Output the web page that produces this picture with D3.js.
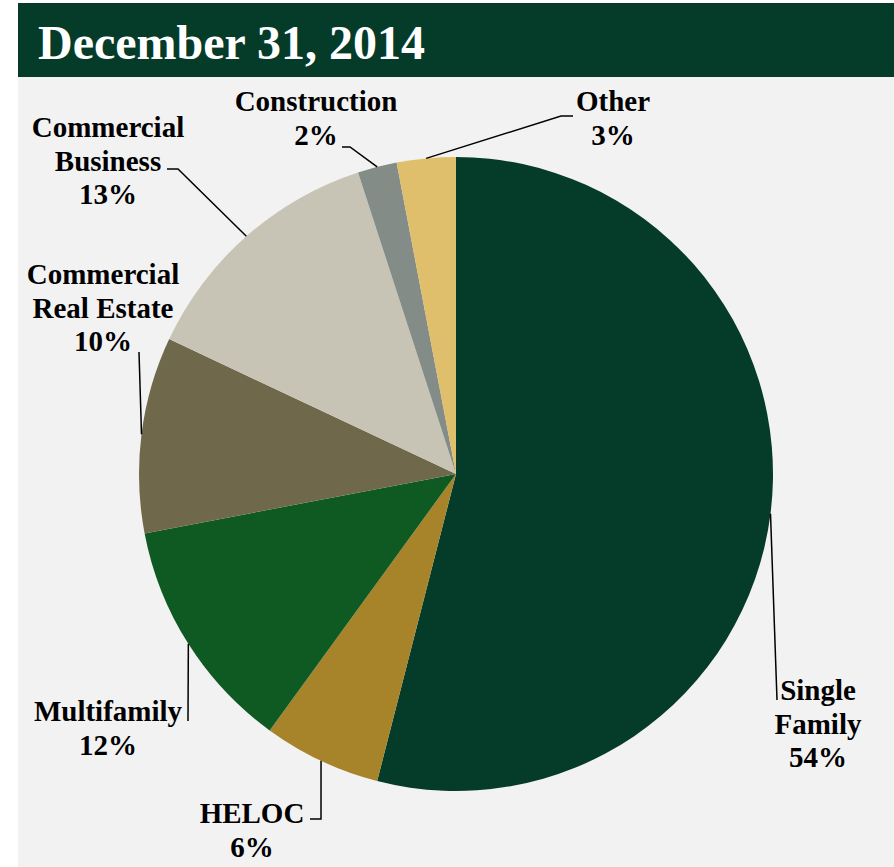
<!DOCTYPE html>
<html>
<head>
<meta charset="utf-8">
<script src="https://cdn.jsdelivr.net/npm/d3@7"></script>
<style>
  html, body { margin: 0; padding: 0; background: #fff; }
  svg { display: block; }
  text { font-family: "Liberation Serif", "Times New Roman", serif; font-weight: bold; }
</style>
</head>
<body>
<svg id="chart" width="894" height="867"></svg>
<script>
var title = "December 31, 2014";
var categories = ["Single Family", "HELOC", "Multifamily", "Commercial Real Estate", "Commercial Business", "Construction", "Other"];
var values = [54, 6, 12, 10, 13, 2, 3];
var labelLines = [["Single", "Family"], ["HELOC"], ["Multifamily"], ["Commercial", "Real Estate"], ["Commercial", "Business"], ["Construction"], ["Other"]];
var colors = ["#053b29", "#a78429", "#0f5a23", "#70684b", "#c8c4b5", "#848c87", "#dfbf6c"];

// label placement: x, first baseline, leader bend points after the arc point
var labelPos = [
  {x: 818, y: 700, pts: [[777, 700]]},
  {x: 252, y: 823, pts: [[321, 819], [310, 819]]},
  {x: 108, y: 721, pts: [[188, 721]]},
  {x: 103, y: 284, pts: [[139, 352]]},
  {x: 108, y: 137, pts: [[178, 169], [167, 169]]},
  {x: 316, y: 111, pts: [[350, 147], [342, 147]]},
  {x: 613, y: 111, pts: [[561, 116], [573, 116]]}
];

var svg = d3.select("#chart");
var cx = 456, cy = 474, r = 317, lh = 33.5;

svg.append("rect").attr("x", 18).attr("y", 3).attr("width", 876).attr("height", 864).attr("fill", "#f2f2f2");
svg.append("rect").attr("x", 18).attr("y", 3).attr("width", 876).attr("height", 74).attr("fill", "#053b29");
svg.append("text").attr("x", 38).attr("y", 59).attr("fill", "#fff").attr("font-size", 48).text(title);

var pie = d3.pie().sort(null).value(function(d) { return d; });
var arcs = pie(values);
var arc = d3.arc().innerRadius(0).outerRadius(r);
var edge = d3.arc().innerRadius(r).outerRadius(r);

var g = svg.append("g").attr("transform", "translate(" + cx + "," + cy + ")");
g.selectAll("path.slice").data(arcs).enter().append("path")
  .attr("class", "slice")
  .attr("d", arc)
  .attr("fill", function(d, i) { return colors[i]; });

var line = d3.line();
arcs.forEach(function(d, i) {
  var c = edge.centroid(d);
  var pts = [[cx + c[0], cy + c[1]]].concat(labelPos[i].pts);
  svg.append("path").attr("d", line(pts)).attr("fill", "none")
    .attr("stroke", "#000").attr("stroke-width", 1.5);

  var lines = labelLines[i].concat([values[i] + "%"]);
  var t = svg.append("text").attr("text-anchor", "middle").attr("font-size", 29).attr("fill", "#000");
  lines.forEach(function(s, k) {
    t.append("tspan").attr("x", labelPos[i].x).attr("y", labelPos[i].y + k * lh).text(s);
  });
});
</script>
</body>
</html>
